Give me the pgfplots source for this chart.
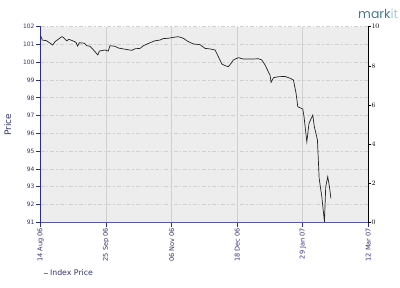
\documentclass[border=0pt]{standalone}
\usepackage{fontspec}
\setmainfont{DejaVu Sans}
\newfontfamily\logofont{Poppins}
\usepackage{pgfplots}
\pgfplotsset{compat=1.18}
\definecolor{navy}{RGB}{45,45,140}
\definecolor{navytxt}{RGB}{50,50,115}
\definecolor{xaxc}{RGB}{85,85,170}
\definecolor{gridc}{RGB}{208,208,208}
\definecolor{bgc}{RGB}{237,237,237}
\definecolor{linec}{RGB}{35,35,35}
\definecolor{markdark}{RGB}{70,120,140}
\definecolor{marklight}{RGB}{160,205,225}
\begin{document}
\begin{tikzpicture}
\path[use as bounding box] (-40.7bp,-65.7bp) rectangle (359.3bp,222.3bp);
\begin{axis}[
  scale only axis, width=327.6bp, height=195.6bp,
  at={(0,0)}, anchor=south west,
  xmin=0, xmax=210, ymin=91, ymax=102,
  axis background/.style={fill=bgc},
  xtick={0,42,84,126,168,210},
  xticklabels={14 Aug 06,25 Sep 06,06 Nov 06,18 Dec 06,29 Jan 07,12 Mar 07},
  ytick={91,92,...,102},
  xmajorgrids, ymajorgrids,
  x grid style={gridc, line width=0.7bp},
  y grid style={gridc, line width=0.7bp, dash pattern=on 4bp off 2bp on 1.5bp off 2bp},
  axis x line*=bottom, axis y line*=left,
  x axis line style={xaxc, line width=1.1bp, -},
  y axis line style={navy, line width=1bp, -},
  tick align=outside,
  xtick style={navy, line width=0.8bp},
  ytick style={navy, line width=0.8bp},
  major tick length=4.5bp,
  xticklabel style={rotate=90, anchor=east, font=\fontsize{6.6}{7}\selectfont, text=navytxt, inner sep=1bp},
  yticklabel style={font=\fontsize{6}{7}\selectfont, text=navytxt, inner sep=1.5bp},
  /pgf/number format/assume math mode=true,
  /pgf/number format/1000 sep={},
  ylabel={Price},
  ylabel style={at={(axis description cs:-0.1007,0.5)}, anchor=center, font=\fontsize{9}{10}\selectfont, text=navytxt},
  legend style={at={(axis description cs:0.007,-0.261)}, anchor=west, draw=none, fill=none,
    font=\fontsize{7.8}{8}\selectfont, text=navytxt, inner sep=0pt, nodes={inner sep=1.5bp}},
  legend image code/.code={\draw[#1, gray, line width=0.9bp] (0bp,0bp) -- (4.5bp,0bp);},
  legend cell align=left,
  legend style={/tikz/every even column/.append style={column sep=1.5bp}},
]
\addplot[linec, line width=0.7bp] coordinates {
(0.0,101.49) (1.0,101.25) (3.8,101.21) (7.7,100.97) (9.2,101.16) (13.5,101.44)
(14.5,101.40) (16.7,101.20) (18.0,101.29) (20.5,101.21) (22.6,101.12) (23.7,100.91)
(24.8,101.10) (28.0,101.07) (29.5,100.93) (31.6,100.90) (34.8,100.60) (36.6,100.41)
(37.6,100.63) (41.2,100.69) (43.3,100.63) (44.4,100.93) (47.6,100.90) (49.8,100.80)
(53.0,100.75) (58.4,100.67) (60.5,100.76) (63.7,100.78) (65.8,100.93) (70.1,101.10)
(73.3,101.21) (76.5,101.25) (78.6,101.33) (81.8,101.35) (85.0,101.40) (88.2,101.44)
(91.4,101.35) (94.6,101.16) (97.9,101.03) (102.1,100.99) (105.4,100.78) (108.6,100.75)
(111.8,100.69) (113.9,100.31) (116.1,99.90) (118.2,99.81) (120.3,99.75) (122.0,99.94)
(123.5,100.13) (126.7,100.26) (129.9,100.18) (135.3,100.18) (139.5,100.20) (141.7,100.13)
(143.8,99.85) (145.9,99.47) (147.0,99.28) (147.7,98.87) (149.2,99.13) (152.4,99.19)
(156.7,99.20) (159.9,99.10) (162.0,99.00) (163.7,98.25) (164.8,97.50) (168.0,97.37)
(168.8,96.94) (170.6,95.53) (172.0,96.57) (174.4,97.03) (175.4,96.38) (177.4,95.63)
(178.5,93.47) (180.2,92.44) (181.2,91.60) (181.9,91.03) (182.7,93.00) (184.0,93.56)
(185.1,93.00) (186.0,92.35)
};
\addlegendentry{Index Price}
\end{axis}
\begin{axis}[
  scale only axis, width=327.6bp, height=195.6bp,
  at={(0,0)}, anchor=south west,
  xmin=0, xmax=210, ymin=0, ymax=10,
  ytick={0,2,...,10},
  axis y line*=right, axis x line=none,
  y axis line style={black, line width=0.8bp, -},
  ytick style={black, line width=0.6bp},
  tick align=outside, major tick length=2.5bp,
  yticklabel style={font=\fontsize{7}{8}\selectfont, inner sep=0.5bp},
]
\addplot[draw=none] coordinates {(0,0) (210,10)};
\end{axis}
\node[anchor=base west, inner sep=0pt, text depth=0pt, text height=8bp, font=\logofont\fontsize{12.5}{13}\selectfont] at (317.3bp,203.3bp) {\textcolor{markdark}{mark}\textcolor{marklight}{it}};
\end{tikzpicture}
\end{document}
